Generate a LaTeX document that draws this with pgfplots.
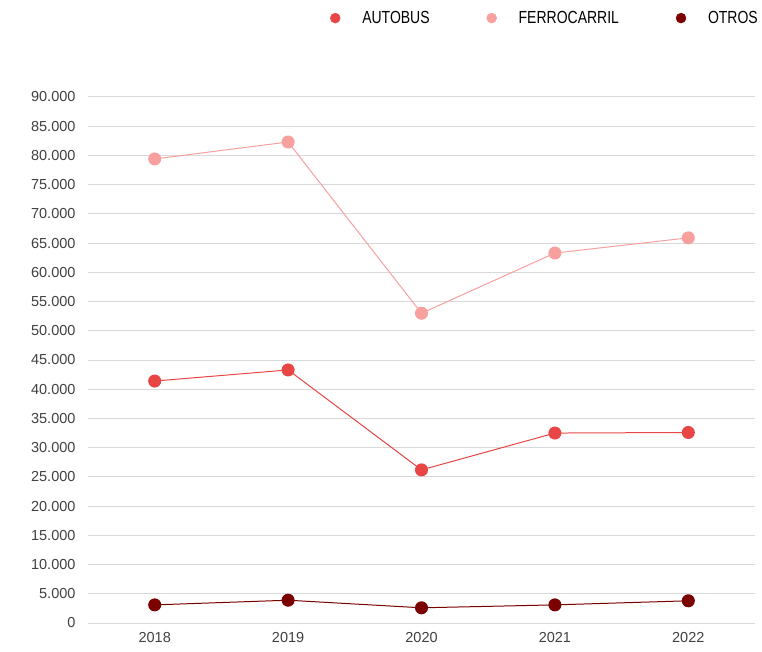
\documentclass[border=0pt]{standalone}
\usepackage{pgfplots}
\pgfplotsset{compat=1.18}
\usepackage{fontspec}
\setmainfont{Liberation Sans}
\newfontfamily\narrowfont[FakeStretch=0.8]{Liberation Sans}
\definecolor{cauto}{HTML}{E84545}
\definecolor{cferro}{HTML}{F8A09E}
\definecolor{cotros}{HTML}{7B0000}
\definecolor{cgrid}{HTML}{D9D9D9}
\definecolor{ctext}{HTML}{404040}
\begin{document}
\begin{tikzpicture}[font=\fontsize{14.5}{17}\selectfont]
\path[use as bounding box] (-88pt,-28pt) rectangle (674pt,623pt);
\begin{axis}[
  at={(0pt,0pt)}, anchor=south west,
  scale only axis, width=667pt, height=526pt,
  xmin=-0.5, xmax=4.5, ymin=0, ymax=90000,
  axis line style={draw=none},
  ytick={0,5000,...,90000},
  xtick={0,1,2,3,4},
  xticklabels={2018,2019,2020,2021,2022},
  ymajorgrids, grid style={cgrid, line width=1pt},
  major tick length=0pt,
  tick label style={ctext},
  yticklabel style={xshift=-9pt},
  xticklabel style={yshift=-6pt},
  scaled y ticks=false,
  /pgf/number format/.cd, 1000 sep={.}, assume math mode=true,
  /pgfplots/.cd,
  clip=false,
  legend columns=3,
  legend style={draw=none, fill=none, inner sep=0pt, anchor=east, at={(1.0075,1.150)},
    text=black, font=\narrowfont\fontsize{17.5}{20}\selectfont,
    /tikz/every odd column/.append style={column sep=20pt},
    /tikz/every even column/.append style={column sep=55pt}},
  legend image code/.code={\draw[#1] plot coordinates {(0pt,0pt)};},
]
\addplot[cferro, line width=1pt, mark=*, mark size=6pt, forget plot] coordinates {(0,79400) (1,82300) (2,53000) (3,63300) (4,65900)};
\addplot[cauto, line width=1pt, mark=*, mark size=6pt, forget plot] coordinates {(0,41400) (1,43300) (2,26200) (3,32500) (4,32600)};
\addplot[cotros, line width=1pt, mark=*, mark size=6pt, forget plot] coordinates {(0,3100) (1,3900) (2,2600) (3,3100) (4,3800)};
\addlegendimage{only marks, mark=*, mark size=5pt, cauto}
\addlegendentry{AUTOBUS}
\addlegendimage{only marks, mark=*, mark size=5pt, cferro}
\addlegendentry{FERROCARRIL}
\addlegendimage{only marks, mark=*, mark size=5pt, cotros}
\addlegendentry{OTROS}
\end{axis}
\end{tikzpicture}
\end{document}
